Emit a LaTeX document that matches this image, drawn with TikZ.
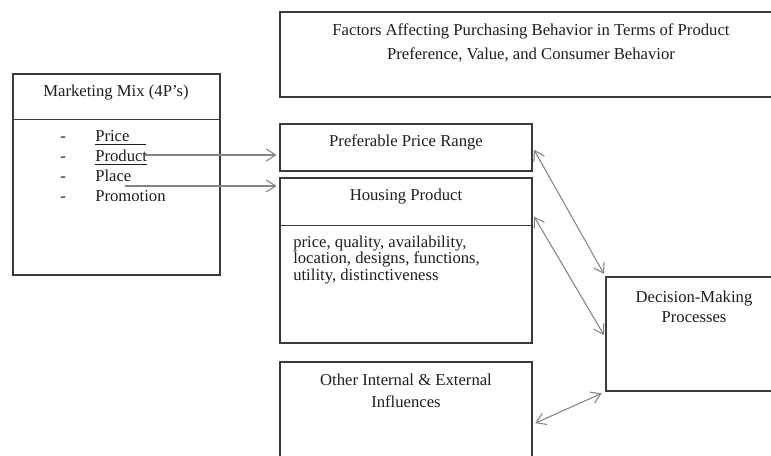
\documentclass[tikz,border=0pt]{standalone}
\usepackage{fontspec}
\setmainfont{Liberation Serif}
\usetikzlibrary{arrows.meta,calc,fit}
\definecolor{boxline}{HTML}{3A3A3A}
\definecolor{arrowgray}{HTML}{858585}
\definecolor{txt}{HTML}{1E1E1E}
\begin{document}
\begin{tikzpicture}[x=0.75pt,y=-0.75pt,
  box/.style={draw=boxline,line width=1.1pt,inner sep=0pt},
  divider/.style={draw=boxline,line width=1.1pt},
  label/.style={text=txt,inner sep=0pt,font=\fontsize{12.5}{15}\selectfont},
  arr/.style={draw=arrowgray,line width=0.8pt,-{Straight Barb[length=7pt,width=9pt]}},
  dbl/.style={draw=arrowgray,line width=0.8pt,{Straight Barb[length=7pt,width=9pt]}-{Straight Barb[length=7pt,width=9pt]}}
]
\useasboundingbox (0,0) rectangle (771,456);
\clip (0,0) rectangle (771,456);
\fill[white] (0,0) rectangle (771,456);

% boxes
\node[box,fit={(13,74) (220,275)}] (mm) {};
\node[box,fit={(280,12) (795,97)}] (title) {};
\node[box,fit={(280,124) (532,171)}] (ppr) {};
\node[box,fit={(280,178) (532,343)}] (hp) {};
\node[box,fit={(280,362) (532,480)}] (oth) {};
\node[box,fit={(606,277) (795,391)}] (dm) {};

% header dividers
\draw[divider] ($(mm.north west)+(0,46)$) -- ($(mm.north east)+(0,46)$);
\draw[divider] ($(hp.north west)+(0,48)$) -- ($(hp.north east)+(0,48)$);

% texts
\node[label] (mmt) at (116,93) {Marketing Mix (4P’s)};
\node[label,align=center,font=\fontsize{12.5}{18}\selectfont] (tt) at (531,43)
  {Factors Affecting Purchasing Behavior in Terms of Product\\Preference, Value, and Consumer Behavior};
\node[label] (pprt) at (406,142) {Preferable Price Range};
\node[label] (hpt) at (406,197) {Housing Product};
\node[label,align=left,anchor=north west,font=\fontsize{12.5}{10.4}\selectfont] (hpl) at (293,235.5)
  {price, quality, availability,\\location, designs, functions,\\utility, distinctiveness};
\node[label,align=center,font=\fontsize{12.5}{16.5}\selectfont] (otht) at (406,391)
  {Other Internal \& External\\Influences};
\node[label,align=center] (dmt) at (694,307) {Decision-Making\\Processes};

% the four P's
\foreach \y/\w [count=\i] in {142/{\underline{Price\hphantom{\_\_}}},162/{\underline{Product}},181/{Place},201/{Promotion}}{
  \node[label,anchor=base west] (dash\i) at (60,\y) {-};
  \node[label,anchor=base west] (p\i) at (95,\y) {\w};
}

% connectors
\coordinate (s1) at (145,155);
\coordinate (s2) at (125,186);
\draw[arr,shorten >=2pt] (s1) -- (s1 -| ppr.west);
\draw[arr,shorten >=2pt] (s2) -- (s2 -| hp.west);
\draw[dbl,shorten <=2pt,shorten >=2pt] (ppr.east) -- (dm.north west);
\draw[dbl,shorten <=2pt,shorten >=2pt] ($(hp.north east)+(0,37)$) -- ($(dm.north west)+(0,61)$);
\draw[dbl,shorten <=2pt,shorten >=3pt] ($(oth.north east)+(0,63)$) -- (dm.south west);
\end{tikzpicture}
\end{document}
